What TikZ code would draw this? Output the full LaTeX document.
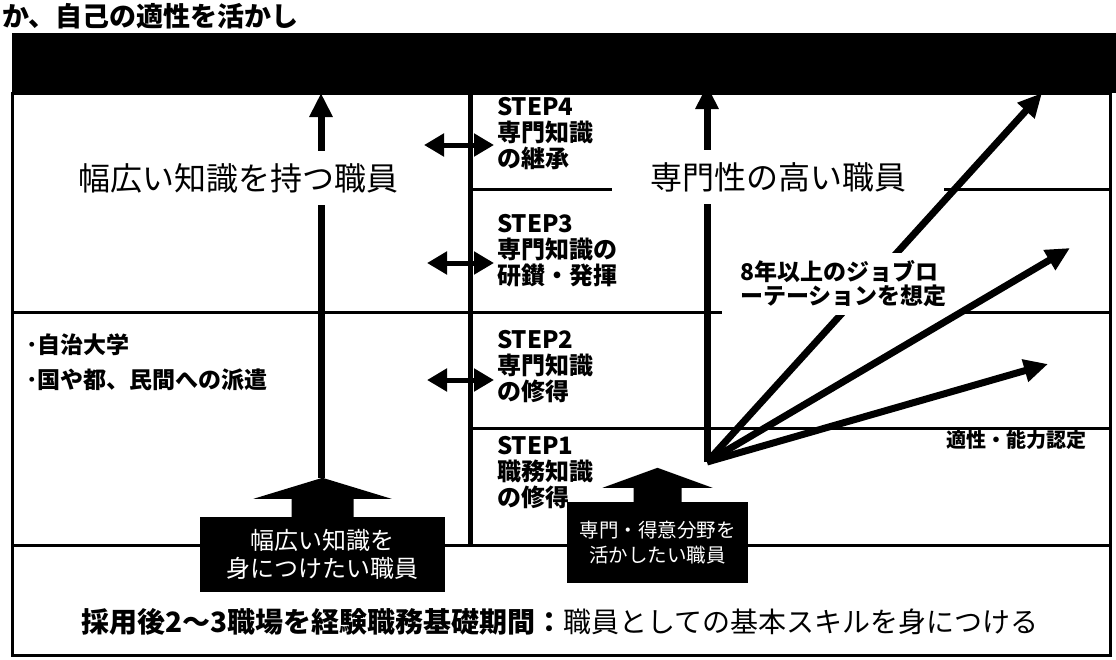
\documentclass[tikz,border=0pt]{standalone}
\usepackage{fontspec}
\setmainfont{Noto Sans CJK JP}
\usepackage{tikz}
\usetikzlibrary{arrows.meta,positioning,calc}
\tikzset{
  carline/.style={line width=3pt},
  carstep/.style={font=\bfseries\fontsize{24}{26}\selectfont,align=left,anchor=west,inner sep=0pt},
  carblock/.style={fill=black,text=white,align=center,inner sep=0pt},
  carflow/.style={-{Triangle[length=24pt,width=22pt]},line width=7pt},
  carboth/.style={{Triangle[length=20pt,width=22pt]}-{Triangle[length=20pt,width=22pt]},line width=5pt},
  carhead/.style={fill=white,font=\fontsize{32}{38}\selectfont,inner xsep=6pt,inner ysep=12pt},
}
\begin{document}
\begin{tikzpicture}[x=1pt,y=-1pt]
\useasboundingbox (0,0) rectangle (1116,659);
% header band and frame
\fill (12,33) rectangle (1116,93);
\draw[carline] (12,93) rectangle (1110,655);
\draw[carline] (470,189) -- (1110,189);
\draw[carline] (12,312) -- (722,312);
\draw[carline] (960,312) -- (1110,312);
\draw[carline] (470,428) -- (1110,428);
\draw[carline] (12,545) -- (1110,545);
\draw[line width=5pt] (470,93) -- (470,545);

% left side
\coordinate (broadtip) at (321,478);
\coordinate (broadtop) at (321,93);
\draw[carflow] (broadtip) -- (broadtop);
\node[carhead] (broad) at (238,178) {幅広い知識を持つ職員};
\node[anchor=west,align=left,inner sep=0pt,font=\bfseries\fontsize{23}{35}\selectfont] (dispatch) at (26,362) {･自治大学\\･国や都、民間への派遣};

% steps
\node[carstep] (stepfour) at (497,134) {STEP4\\専門知識\\の継承};
\node[carstep] (stepthree) at (497,251) {STEP3\\専門知識の\\研鑚・発揮};
\node[carstep] (steptwo) at (497,367) {STEP2\\専門知識\\の修得};
\node[carstep] (stepone) at (497,473) {STEP1\\職務知識\\の修得};
\coordinate (lkfour) at (424,145);
\coordinate (lkthree) at (427,263);
\coordinate (lktwo) at (427,380);
\draw[carboth,shorten >=3pt] (lkfour) -- (lkfour -| stepfour.west);
\draw[carboth,shorten >=3pt] (lkthree) -- (lkthree -| stepthree.west);
\draw[carboth,shorten >=3pt] (lktwo) -- (lktwo -| steptwo.west);

% right side
\coordinate (rotorigin) at (707,462);
\coordinate (specialtop) at (707,85);
\draw[carflow] (rotorigin) -- (specialtop);
\node[carhead,inner xsep=38pt] (special) at (778,177) {専門性の高い職員};
\coordinate (rothigh) at (1042,93);
\coordinate (rotmid) at (1070,248);
\coordinate (rotlow) at (1048,364);
\draw[carflow] (rotorigin) -- (rothigh);
\node[anchor=west,align=left,fill=white,inner xsep=2pt,inner ysep=8pt,font=\bfseries\fontsize{23}{24}\selectfont] (rotation) at (738,284) {8年以上のジョブロ\\ーテーションを想定};
\draw[carflow] (rotorigin) -- (rotmid);
\draw[carflow] (rotorigin) -- (rotlow);
\node[font=\bfseries\fontsize{20}{24}\selectfont] (aptitude) at (1016,440) {適性・能力認定};

% block arrows
\node[carblock,minimum width=245pt,minimum height=75pt,font=\fontsize{24}{28}\selectfont] (wantbroad) at (322.5,554.5) {幅広い知識を\\身につけたい職員};
\fill (wantbroad.north) ++(-31,1) -- ++(0,-19) -- ++(-38,0) -- ++(69,-21) -- ++(69,21) -- ++(-38,0) -- ++(0,19) -- cycle;
\node[carblock,minimum width=181pt,minimum height=81pt,font=\fontsize{19.5}{25}\selectfont] (wantspecial) at (657.5,542.5) {専門・得意分野を\\活かしたい職員};
\fill (wantspecial.north) ++(-24,1) -- ++(0,-15) -- ++(-31,0) -- ++(55,-20) -- ++(55,20) -- ++(-31,0) -- ++(0,15) -- cycle;

% bottom and top text
\node[font=\fontsize{28}{32}\selectfont] (basic) at (560,622) {\textbf{採用後2～3職場を経験職務基礎期間：}職員としての基本スキルを身につける};
\node[anchor=west,inner sep=0pt,font=\bfseries\fontsize{27}{30}\selectfont] (topcut) at (2,16) {か、自己の適性を活かし};
\end{tikzpicture}
\end{document}
